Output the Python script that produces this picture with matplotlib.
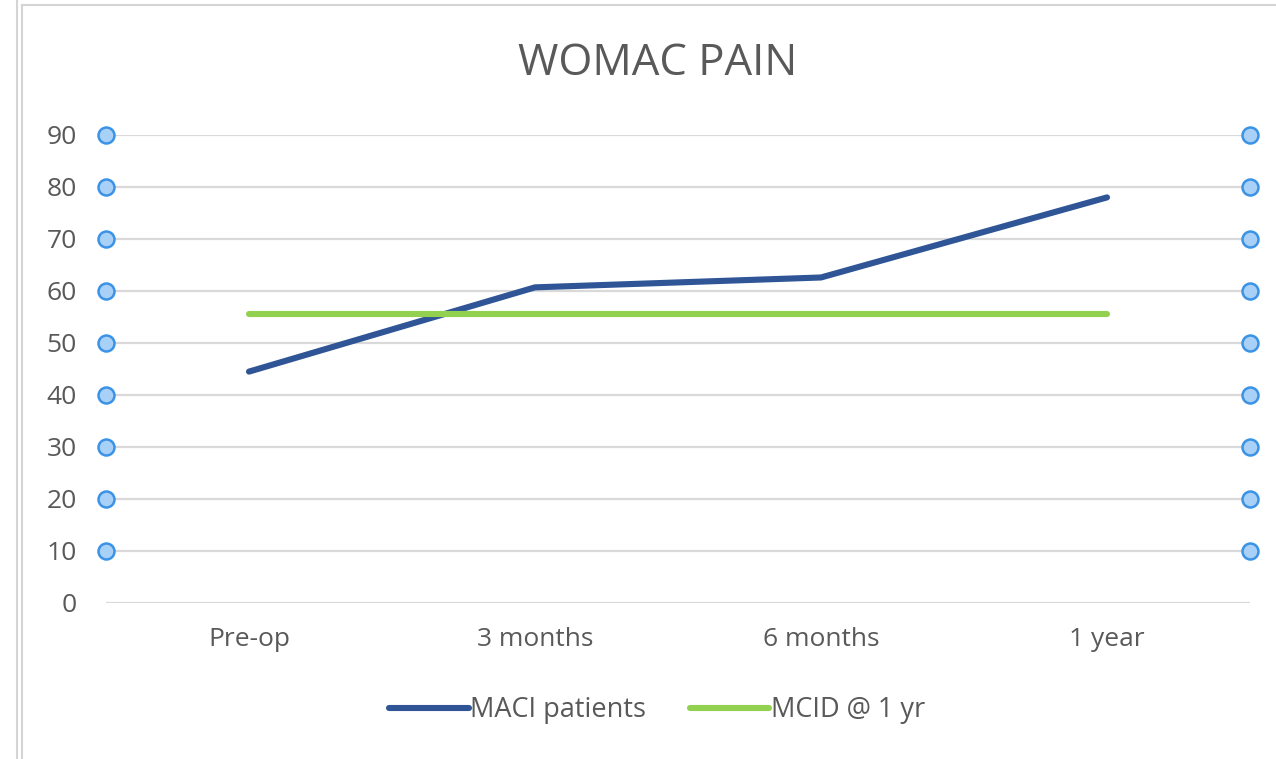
import matplotlib
matplotlib.use("Agg")
import matplotlib.pyplot as plt
from matplotlib.lines import Line2D

plt.rcParams["font.family"] = ["Open Sans", "DejaVu Sans"]

# ── data ──────────────────────────────────────────────────────────────────────
categories = ["Pre-op", "3 months", "6 months", "1 year"]
maci = [44.5, 60.7, 62.6, 78.0]
mcid = [55.5, 55.5, 55.5, 55.5]
yticks = [0, 10, 20, 30, 40, 50, 60, 70, 80, 90]

TXT = "#595959"
GRID = "#D9D9D9"
BLUE = "#2F5597"
GREEN = "#92D050"

W, H = 1276, 759
fig = plt.figure(figsize=(W / 100, H / 100), dpi=100)
fig.patch.set_facecolor("white")

# plot area in pixels: x 106..1250, y 135..603
ax = fig.add_axes([106 / W, 1 - 603 / H, (1250 - 106) / W, (603 - 135) / H])
ax.set_xlim(-0.5, len(categories) - 0.5)
ax.set_ylim(0, 90)

for y in yticks:
    ax.axhline(y, color=GRID, lw=1.6, zorder=1)

x = range(len(categories))
ax.plot(x, maci, color=BLUE, lw=4.4, solid_capstyle="round", zorder=3,
        label="MACI patients")
ax.plot(x, mcid, color=GREEN, lw=4.4, solid_capstyle="round", zorder=4,
        label="MCID @ 1 yr")

# selection handles on both sides of the plot area
for xe in (-0.5, len(categories) - 0.5):
    ax.plot([xe] * (len(yticks) - 1), yticks[1:], ls="none", marker="o",
            ms=11.5, mfc="#A9D0F7", mec="#3B93E6", mew=1.8,
            clip_on=False, zorder=5)

for s in ax.spines.values():
    s.set_visible(False)
ax.set_yticks(yticks)
ax.set_xticks(list(x))
ax.set_xticklabels(categories)
ax.tick_params(axis="y", length=0, pad=21, labelsize=19, labelcolor=TXT)
ax.tick_params(axis="x", length=0, pad=17, labelsize=19, labelcolor=TXT)

fig.text(658 / W, 1 - 64 / H, "WOMAC PAIN", ha="center", va="center",
         fontsize=31.5, color=TXT)

leg = fig.legend(loc="center", bbox_to_anchor=(657 / W, 1 - 710 / H),
                 ncol=2, frameon=False, fontsize=19.5, handlelength=2.95,
                 handletextpad=0.05, columnspacing=1.6)
for t in leg.get_texts():
    t.set_color(TXT)

# window borders
bc = "#D4D4D4"
fig.add_artist(Line2D([17 / W, 17 / W], [0, 1], color=bc, lw=1.5))
fig.add_artist(Line2D([22 / W, 22 / W], [0, 1 - 5 / H], color=bc, lw=1.5))
fig.add_artist(Line2D([22 / W, 1], [1 - 5 / H, 1 - 5 / H], color=bc, lw=1.5))

fig.savefig("out.png", dpi=100, facecolor="white")
